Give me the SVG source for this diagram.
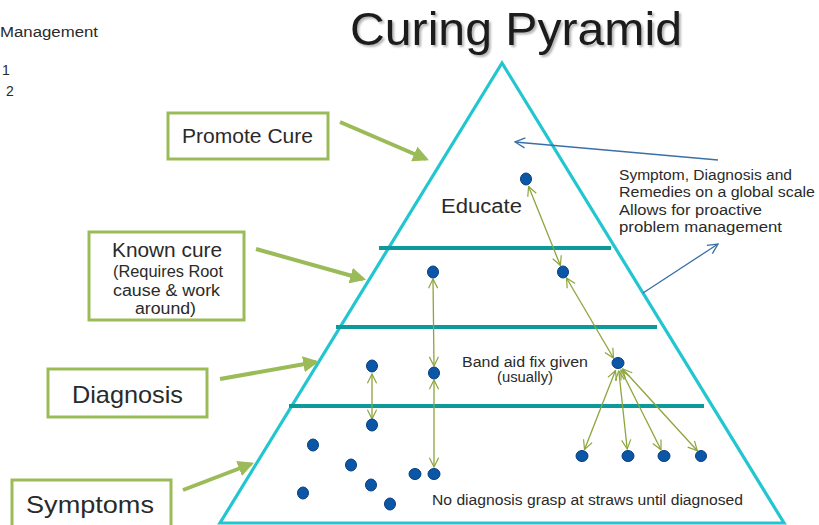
<svg xmlns="http://www.w3.org/2000/svg" width="819" height="525" viewBox="0 0 819 525">
<style>
text{font-family:"Liberation Sans","DejaVu Sans",sans-serif;fill:#2a2a2a}
.box{fill:#fff;stroke:#9BBB59;stroke-width:3}
.garrow{stroke:#9BBB59;stroke-width:4;fill:none;marker-end:url(#gHead)}
.barrow{stroke:#3B6FA8;stroke-width:1.3;fill:none;marker-end:url(#bHead)}
.oarrow{stroke:#8CA53B;stroke-width:1.3;fill:none;marker-start:url(#oHead);marker-end:url(#oHead)}
.tier{stroke:#0E9A9A;stroke-width:4}
.dot{fill:#0B56A6;stroke:#083F80;stroke-width:1}
.lbl{font-size:14px}
</style>
<defs>
<marker id="gHead" viewBox="0 0 10 10" refX="8" refY="5" markerWidth="4" markerHeight="4" orient="auto" markerUnits="strokeWidth">
<path d="M0,0 L10,5 L0,10 Z" fill="#9BBB59"/>
</marker>
<marker id="bHead" viewBox="0 0 12 12" refX="11" refY="6" markerWidth="12" markerHeight="12" orient="auto" markerUnits="userSpaceOnUse">
<path d="M1,1 L11,6 L1,11" fill="none" stroke="#3B6FA8" stroke-width="1.3"/>
</marker>
<marker id="oHead" viewBox="0 0 12 12" refX="11" refY="6" markerWidth="11" markerHeight="11" orient="auto-start-reverse" markerUnits="userSpaceOnUse">
<path d="M1,1 L11,6 L1,11" fill="none" stroke="#8CA53B" stroke-width="1.3"/>
</marker>
<filter id="shadow" x="-5%" y="-20%" width="110%" height="150%">
<feDropShadow dx="2" dy="2" stdDeviation="1" flood-color="#000" flood-opacity="0.3"/>
</filter>
</defs>

<g id="title">
<text x="350" y="45" font-size="46" textLength="332" lengthAdjust="spacingAndGlyphs" filter="url(#shadow)" style="fill:#1a1a1a">Curing Pyramid</text>
</g>

<g id="corner-text">
<text x="0" y="37" font-size="14" textLength="98" lengthAdjust="spacingAndGlyphs">Management</text>
<text x="2" y="75" font-size="14">1</text>
<text x="6" y="96" font-size="14">2</text>
</g>

<g id="pyramid">
<polygon points="502,63 220,523 784,523" fill="none" stroke="#22C6D0" stroke-width="3.2"/>
<line class="tier" x1="379" y1="248" x2="611" y2="248"/>
<line class="tier" x1="336" y1="327" x2="657" y2="327"/>
<line class="tier" x1="289" y1="406" x2="704" y2="406"/>
</g>

<g id="promote-cure">
<rect class="box" x="168" y="113" width="160" height="46"/>
<text x="182" y="143" font-size="21" textLength="131" lengthAdjust="spacingAndGlyphs">Promote Cure</text>
</g>

<g id="known-cure">
<rect class="box" x="89" y="232" width="155" height="88"/>
<text x="112" y="257" font-size="20" textLength="110" lengthAdjust="spacingAndGlyphs">Known cure</text>
<text x="113" y="277" font-size="16" textLength="110" lengthAdjust="spacingAndGlyphs">(Requires Root</text>
<text x="113" y="296" font-size="16" textLength="107" lengthAdjust="spacingAndGlyphs">cause &amp; work</text>
<text x="135" y="314" font-size="16" textLength="61" lengthAdjust="spacingAndGlyphs">around)</text>
</g>

<g id="diagnosis">
<rect class="box" x="48" y="369" width="159" height="48"/>
<text x="72" y="403" font-size="24" textLength="111" lengthAdjust="spacingAndGlyphs">Diagnosis</text>
</g>

<g id="symptoms">
<rect class="box" x="12" y="480" width="159" height="50"/>
<text x="26" y="513" font-size="24" textLength="128" lengthAdjust="spacingAndGlyphs">Symptoms</text>
</g>

<g id="tier-labels">
<text x="441" y="213" font-size="20" textLength="81" lengthAdjust="spacingAndGlyphs">Educate</text>
<text class="lbl" x="462" y="367" textLength="126" lengthAdjust="spacingAndGlyphs">Band aid fix given</text>
<text class="lbl" x="497" y="382" textLength="56" lengthAdjust="spacingAndGlyphs">(usually)</text>
<text class="lbl" x="432" y="505" textLength="311" lengthAdjust="spacingAndGlyphs">No diagnosis grasp at straws until diagnosed</text>
</g>

<g id="global-note">
<text class="lbl" x="619" y="180" textLength="173" lengthAdjust="spacingAndGlyphs">Symptom, Diagnosis and</text>
<text class="lbl" x="619" y="197" textLength="196" lengthAdjust="spacingAndGlyphs">Remedies on a global scale</text>
<text class="lbl" x="619" y="215" textLength="143" lengthAdjust="spacingAndGlyphs">Allows for proactive</text>
<text class="lbl" x="619" y="232" textLength="163" lengthAdjust="spacingAndGlyphs">problem management</text>
</g>

<g id="connectors">
<line class="garrow" x1="340" y1="122" x2="426" y2="159"/>
<line class="garrow" x1="256" y1="249" x2="363" y2="279"/>
<line class="garrow" x1="220" y1="379" x2="316" y2="362"/>
<line class="garrow" x1="183" y1="490" x2="251" y2="464"/>
<line class="barrow" x1="718" y1="160" x2="515" y2="142"/>
<line class="barrow" x1="643" y1="293" x2="718" y2="244"/>
<line class="oarrow" x1="528.6" y1="186.5" x2="560.4" y2="265.5"/>
<line class="oarrow" x1="566.5" y1="278" x2="613.5" y2="358"/>
<line class="oarrow" x1="433" y1="279" x2="434" y2="366"/>
<line class="oarrow" x1="372" y1="374" x2="372" y2="419"/>
<line class="oarrow" x1="434" y1="380" x2="434" y2="467"/>
<line class="oarrow" x1="615.5" y1="370.5" x2="584.5" y2="449.5"/>
<line class="oarrow" x1="618.8" y1="371" x2="627.2" y2="449"/>
<line class="oarrow" x1="621" y1="370" x2="661" y2="449.7"/>
<line class="oarrow" x1="622.7" y1="369" x2="697.3" y2="450.8"/>
</g>

<g id="dots">
<ellipse class="dot" cx="526" cy="179" rx="5.5" ry="6"/>
<ellipse class="dot" cx="433" cy="272" rx="5.5" ry="6"/>
<ellipse class="dot" cx="563" cy="272" rx="5.5" ry="6"/>
<ellipse class="dot" cx="372" cy="366" rx="5.5" ry="6"/>
<ellipse class="dot" cx="434" cy="373" rx="5.5" ry="6"/>
<ellipse class="dot" cx="618" cy="363" rx="6" ry="5.5"/>
<ellipse class="dot" cx="372" cy="425" rx="5.5" ry="6"/>
<ellipse class="dot" cx="313" cy="445" rx="5.5" ry="6"/>
<ellipse class="dot" cx="351" cy="465" rx="5.5" ry="6"/>
<ellipse class="dot" cx="415" cy="474" rx="6" ry="5.5"/>
<ellipse class="dot" cx="434" cy="474" rx="6" ry="5.5"/>
<ellipse class="dot" cx="303" cy="493" rx="5.5" ry="6"/>
<ellipse class="dot" cx="371" cy="485" rx="5.5" ry="6"/>
<ellipse class="dot" cx="390" cy="504" rx="5.5" ry="6"/>
<ellipse class="dot" cx="582" cy="456" rx="6" ry="5.5"/>
<ellipse class="dot" cx="628" cy="456" rx="6" ry="5.5"/>
<ellipse class="dot" cx="664" cy="456" rx="6" ry="5.5"/>
<ellipse class="dot" cx="701" cy="456" rx="5.5" ry="5.5"/>
</g>
</svg>
